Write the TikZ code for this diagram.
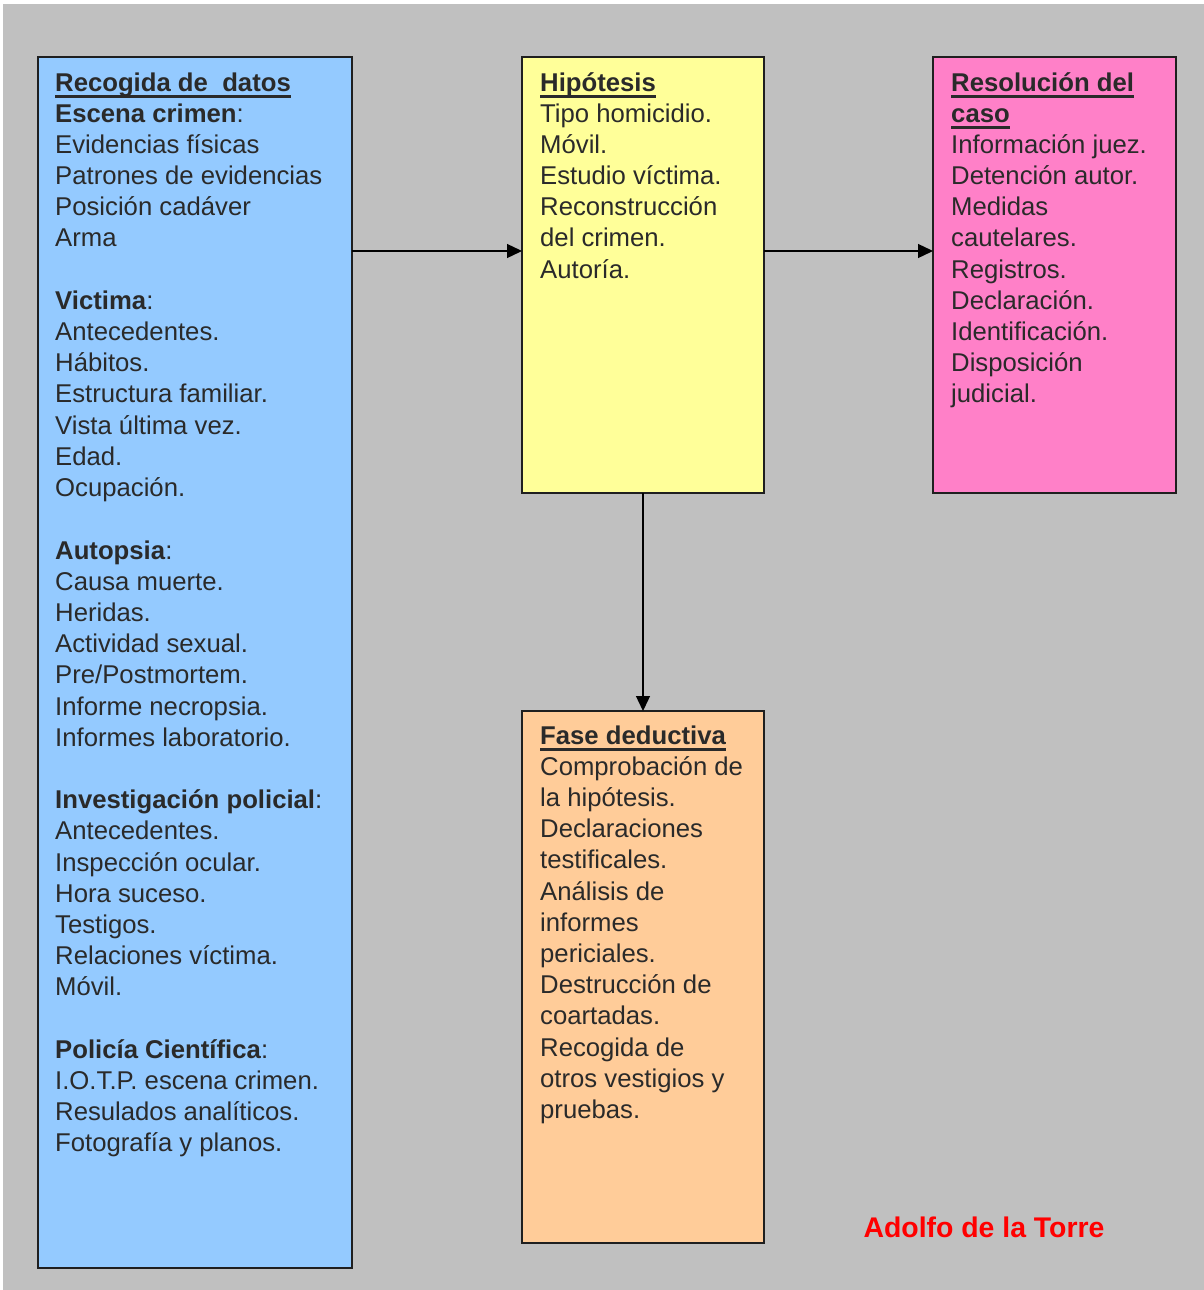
\documentclass[tikz,border=0pt]{standalone}
\usepackage{fontspec}
\setmainfont{Liberation Sans}
\usetikzlibrary{arrows.meta}
\definecolor{bgc}{HTML}{C0C0C0}
\definecolor{bluec}{HTML}{94CAFF}
\definecolor{yellowc}{HTML}{FFFF99}
\definecolor{pinkc}{HTML}{FF80C8}
\definecolor{orangec}{HTML}{FFCC99}
\definecolor{txtc}{HTML}{2A2A2A}
\definecolor{redc}{HTML}{FF0000}
\newcommand\hd[1]{\leavevmode\setbox0\hbox{\bfseries #1}\rlap{\rule[-6.5pt]{\wd0}{2.6pt}}\box0}
\newcommand\bh[1]{\textbf{#1}}
\newcommand\gap{\\[31.2pt]}
\begin{document}
\begin{tikzpicture}[x=1pt,y=-1pt,
  box/.style={draw=black!88, line width=1.3pt, fill=#1, anchor=north west, inner sep=0pt, outer sep=0pt},
  txt/.style={anchor=base west, inner sep=0pt, text=txtc, font=\fontsize{25.7}{31.2}\selectfont},
  arr/.style={-{Triangle[length=15pt,width=14pt]}, line width=1.3pt, draw=black}]
\useasboundingbox (0,0) rectangle (1204,1290);
\fill[white] (0,0) rectangle (1204,1290);
\fill[bgc] (3,4) rectangle (1204,1290);

\node[box=bluec, minimum width=314pt, minimum height=1211pt] (datos) at (38,57) {};
\node[box=yellowc, minimum width=242pt, minimum height=436pt] (hyp) at (522,57) {};
\node[box=pinkc, minimum width=243pt, minimum height=436pt] (res) at (933,57) {};
\node[box=orangec, minimum width=242pt, minimum height=532pt] (ded) at (522,711) {};

\node[txt] (t1) at (55,91) {\parbox[t]{300pt}{\raggedright
\hd{Recogida de\ \ datos}\\
\bh{Escena crimen}:\\
Evidencias físicas\\
Patrones de evidencias\\
Posición cadáver\\
Arma\gap
\bh{Victima}:\\
Antecedentes.\\
Hábitos.\\
Estructura familiar.\\
Vista última vez.\\
Edad.\\
Ocupación.\gap
\bh{Autopsia}:\\
Causa muerte.\\
Heridas.\\
Actividad sexual.\\
Pre/Postmortem.\\
Informe necropsia.\\
Informes laboratorio.\gap
\bh{Investigación policial}:\\
Antecedentes.\\
Inspección ocular.\\
Hora suceso.\\
Testigos.\\
Relaciones víctima.\\
Móvil.\gap
\bh{Policía Científica}:\\
I.O.T.P. escena crimen.\\
Resulados analíticos.\\
Fotografía y planos.}};

\node[txt] (t2) at (540,91) {\parbox[t]{230pt}{\raggedright
\hd{Hipótesis}\\
Tipo homicidio.\\
Móvil.\\
Estudio víctima.\\
Reconstrucción\\
del crimen.\\
Autoría.}};

\node[txt] (t3) at (951,91) {\parbox[t]{230pt}{\raggedright
\hd{Resolución del}\\
\hd{caso}\\
Información juez.\\
Detención autor.\\
Medidas\\
cautelares.\\
Registros.\\
Declaración.\\
Identificación.\\
Disposición\\
judicial.}};

\node[txt] (t4) at (540,744) {\parbox[t]{230pt}{\raggedright
\hd{Fase deductiva}\\
Comprobación de\\
la hipótesis.\\
Declaraciones\\
testificales.\\
Análisis de\\
informes\\
periciales.\\
Destrucción de\\
coartadas.\\
Recogida de\\
otros vestigios y\\
pruebas.}};

\node[anchor=base, inner sep=0pt, text=redc, font=\fontsize{28.4}{34}\selectfont\bfseries] (autor) at (984,1237) {Adolfo de la Torre};

\coordinate (a1) at (0,251);
\draw[arr] (datos.east |- a1) -- (hyp.west |- a1);
\draw[arr] (hyp.east |- a1) -- (res.west |- a1);
\draw[arr] (hyp.south) -- (ded.north);
\end{tikzpicture}
\end{document}
